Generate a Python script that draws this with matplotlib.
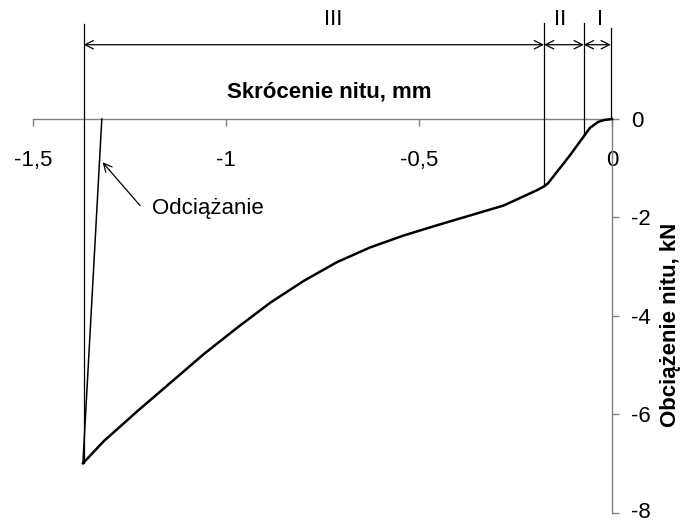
import numpy as np
import matplotlib
matplotlib.use("Agg")
import matplotlib.pyplot as plt
from matplotlib.transforms import ScaledTranslation

plt.rcParams["font.family"] = ["Liberation Sans", "DejaVu Sans"]

# loading curve
load_x = [0.0, -0.010, -0.020, -0.036, -0.057, -0.110, -0.166, -0.176, -0.195, -0.281,
          -0.367, -0.453, -0.540, -0.626, -0.712, -0.798, -0.884, -0.970, -1.057,
          -1.143, -1.229, -1.316, -1.370]
load_y = [0.0, -0.01, -0.02, -0.06, -0.18, -0.75, -1.31, -1.37, -1.45, -1.76,
          -1.96, -2.16, -2.37, -2.61, -2.91, -3.29, -3.73, -4.24, -4.78,
          -5.36, -5.94, -6.55, -7.00]
# unloading
unload_x = [-1.370, -1.321]
unload_y = [-7.00, 0.0]

# stage boundaries and labels
bounds = [-1.368, -0.176, -0.073, -0.003]
bound_bottom = [-7.0, -1.37, -0.33, 0.0]
stage_labels = ["III", "II", "I"]
stage_label_x = [-0.722, -0.135, -0.031]

xticks = [-1.5, -1.0, -0.5, 0.0]
xticklabels = ["-1,5", "-1", "-0,5", "0"]
yticks = [0, -2, -4, -6, -8]
yticklabels = ["0", "-2", "-4", "-6", "-8"]

FS = 16

fig = plt.figure(figsize=(6.83, 5.22), dpi=100)
ax = fig.add_axes([32.7 / 683, 1 - 512.5 / 522, (612 - 32.7) / 683, (512.5 - 119) / 522])
ax.set_xlim(-1.5, 0)
ax.set_ylim(-8, 0)

ax.plot(load_x, load_y, color="black", lw=1.8, clip_on=False, zorder=5)
ax.plot(unload_x, unload_y, color="black", lw=1.1, clip_on=False, zorder=5)

# spines
for s in ["left", "top"]:
    ax.spines[s].set_visible(False)
ax.spines["bottom"].set_position(("data", 0))
ax.spines["right"].set_position(("data", 0))
for s in ["bottom", "right"]:
    ax.spines[s].set_color("#808080")
    ax.spines[s].set_linewidth(1.0)

ax.set_xticks(xticks)
ax.set_xticklabels(xticklabels)
ax.set_yticks(yticks)
ax.set_yticklabels(yticklabels)
ax.yaxis.tick_right()
ax.tick_params(axis="x", direction="out", length=5, width=1, color="#808080",
               pad=17, labelsize=FS)
ax.tick_params(axis="y", direction="out", length=5, width=1, color="#808080",
               pad=9, labelsize=FS)
# nudge the bottom label up so it stays inside the canvas
lab8 = ax.get_yticklabels()[-1]
lab8.set_transform(lab8.get_transform() + ScaledTranslation(0, 3 / 100, fig.dpi_scale_trans))

# stage boundary lines
tops = [1.94, 1.96, 1.96, 1.86]
for bx, bb, bt in zip(bounds, bound_bottom, tops):
    ax.plot([bx, bx], [bb, bt], color="black", lw=0.9, clip_on=False, zorder=4)

arrow_y = 1.51
for i in range(3):
    ax.annotate("", xy=(bounds[i], arrow_y), xytext=(bounds[i + 1], arrow_y),
                arrowprops=dict(arrowstyle="<->,head_length=0.6,head_width=0.3",
                                color="black", lw=0.9, shrinkA=0, shrinkB=0),
                annotation_clip=False)
    ax.text(stage_label_x[i], 2.02, stage_labels[i], ha="center", va="center",
            fontsize=FS, clip_on=False)

ax.text(-0.732, 0.55, "Skrócenie nitu, mm", ha="center", va="center",
        fontsize=FS, fontweight="bold", clip_on=False)
fig.text(0.981, 0.377, "Obciążenie nitu, kN", rotation=90, ha="center",
         va="center", fontsize=FS, fontweight="bold")

ax.annotate("", xy=(-1.319, -0.88), xytext=(-1.222, -1.76),
            arrowprops=dict(arrowstyle="->,head_length=0.6,head_width=0.3",
                            color="black", lw=0.9, shrinkA=0, shrinkB=0))
ax.text(-1.19, -1.82, "Odciążanie", ha="left", va="center", fontsize=FS)

fig.savefig("out.png", dpi=100, facecolor="white")
